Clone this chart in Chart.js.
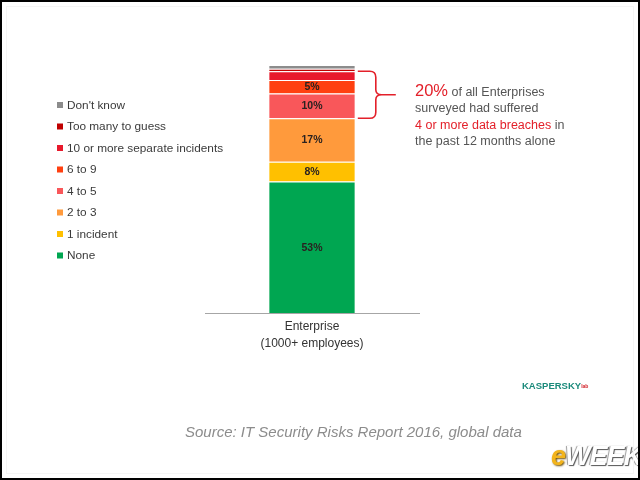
<!DOCTYPE html>
<html>
<head>
<meta charset="utf-8">
<script src="https://cdn.jsdelivr.net/npm/chart.js@4/dist/chart.umd.min.js"></script>
<style>
    body { margin: 0; background: #fff; }
    #wrap { position: relative; width: 640px; height: 480px; overflow: hidden; font-family: "Liberation Sans", Arial, sans-serif; }
    #frame { position: absolute; left: 0; top: 0; width: 636px; height: 476px; border: 2px solid #000; pointer-events: none; }
    #inner { position: absolute; left: 6px; top: 6px; width: 626px; height: 466px; border: 1px solid #f5f5f5; pointer-events: none; }
    #source { position: absolute; left: 185px; top: 423px; font-size: 15px; line-height: 18px; font-style: italic; color: #8c8c8c; white-space: nowrap; }
    #kaspersky { position: absolute; left: 522px; top: 380px; font-size: 9.5px; font-weight: bold; color: #1b8a7b; white-space: nowrap; }
    #kaspersky span { font-size: 5px; color: #d2232a; vertical-align: middle; }
    #eweek { position: absolute; left: 551px; top: 441px; font-size: 27px; font-weight: bold; font-style: italic; white-space: nowrap; letter-spacing: -1px; }
    #eweek .e { color: #f3b41b; text-shadow: 1px 1px 2px #6a4a00; }
    #eweek .w { color: #ffffff; text-shadow: 1px 1px 1px #555, -1px 0 1px #999; }
</style>
</head>
<body>
<div id="wrap">
    <canvas id="chart" width="640" height="480"></canvas>
    <div id="source">Source: IT Security Risks Report 2016, global data</div>
    <div id="kaspersky">KASPERSKY<span>lab</span></div>
    <div id="eweek"><span class="e">e</span><span class="w">WEEK</span></div>
    <div id="inner"></div>
    <div id="frame"></div>
</div>
<script>
'use strict';

// data, bottom of the stack first
const categories = [['Enterprise', '(1000+ employees)']];
const seriesNames = ['None', '1 incident', '2 to 3', '4 to 5', '6 to 9',
    '10 or more separate incidents', 'Too many to guess', "Don't know"];
const seriesValues = [53, 8, 17.5, 10, 5.5, 3.5, 1, 1.5];
const seriesLabels = ['53%', '8%', '17%', '10%', '5%', '', '', ''];
const seriesColors = ['#00a651', '#ffc000', '#ff9a3c', '#f9575a', '#ff4010',
    '#e8192c', '#c00000', '#8c8c8c'];

const noteLines = [
    [{ text: '20%', red: true, big: true }, { text: ' of all Enterprises' }],
    [{ text: 'surveyed had suffered' }],
    [{ text: '4 or more data breaches', red: true }, { text: ' in' }],
    [{ text: 'the past 12 months alone' }]
];

const RED = '#e3202a';
const FONT = '"Liberation Sans", Arial, sans-serif';

let total = 0;
for (let i = 0; i < seriesValues.length; i++) {
    total += seriesValues[i];
}

let datasets = [];
for (let i = 0; i < seriesNames.length; i++) {
    datasets.push({
        label: seriesNames[i],
        data: [seriesValues[i]],
        backgroundColor: seriesColors[i],
        borderColor: '#ffffff',
        borderWidth: { top: 1, bottom: 0, left: 0, right: 0 },
        borderSkipped: false,
        barPercentage: 0.4,
        categoryPercentage: 1
    });
}

const extras = {
    id: 'extras',
    afterDatasetsDraw(chart) {
        const ctx = chart.ctx;
        ctx.save();

        // values in the segments
        ctx.font = 'bold 10.5px ' + FONT;
        ctx.fillStyle = '#2a2220';
        ctx.textAlign = 'center';
        ctx.textBaseline = 'middle';
        for (let i = 0; i < seriesLabels.length; i++) {
            if (!seriesLabels[i]) continue;
            const el = chart.getDatasetMeta(i).data[0];
            ctx.fillText(seriesLabels[i], el.x, (el.y + el.base) / 2 + 0.5);
        }

        // legend on the left, top of the stack first
        ctx.textAlign = 'left';
        ctx.font = '11.8px ' + FONT;
        let k = 0;
        for (let i = seriesNames.length - 1; i >= 0; i--) {
            const y = 105 + k * 21.5;
            ctx.fillStyle = seriesColors[i];
            ctx.fillRect(57, y - 3, 6, 6);
            ctx.fillStyle = '#3a3a3a';
            ctx.fillText(seriesNames[i], 67, y + 0.5);
            k++;
        }

        // brace round "4 to 5" .. "10 or more"
        const low = chart.getDatasetMeta(3).data[0];
        const high = chart.getDatasetMeta(5).data[0];
        const x0 = low.x + low.width / 2 + 3;
        const x1 = x0 + 18;
        const top = high.y;
        const bottom = low.base;
        const mid = (top + bottom) / 2;
        ctx.strokeStyle = RED;
        ctx.lineWidth = 1.6;
        ctx.beginPath();
        ctx.moveTo(x0, top);
        ctx.lineTo(x1 - 6, top);
        ctx.quadraticCurveTo(x1, top, x1, top + 6);
        ctx.lineTo(x1, mid - 5);
        ctx.quadraticCurveTo(x1, mid, x1 + 6, mid);
        ctx.lineTo(x1 + 20, mid);
        ctx.moveTo(x1 + 6, mid);
        ctx.quadraticCurveTo(x1, mid, x1, mid + 5);
        ctx.lineTo(x1, bottom - 6);
        ctx.quadraticCurveTo(x1, bottom, x1 - 6, bottom);
        ctx.lineTo(x0, bottom);
        ctx.stroke();

        // note text
        ctx.textBaseline = 'alphabetic';
        const baselines = [95.5, 111.5, 128.5, 145];
        for (let l = 0; l < noteLines.length; l++) {
            let x = 415;
            for (const part of noteLines[l]) {
                ctx.font = (part.big ? '16.5px ' : '12.5px ') + FONT;
                ctx.fillStyle = part.red ? RED : '#555555';
                ctx.fillText(part.text, x, baselines[l]);
                x += ctx.measureText(part.text).width;
            }
        }
        ctx.restore();
    }
};

new Chart(document.getElementById('chart'), {
    type: 'bar',
    data: {
        labels: categories,
        datasets: datasets
    },
    options: {
        responsive: false,
        animation: false,
        layout: { padding: { left: 205, right: 221, top: 65, bottom: 0 } },
        plugins: {
            legend: { display: false },
            tooltip: { enabled: false }
        },
        scales: {
            x: {
                stacked: true,
                grid: { display: false, drawTicks: false },
                border: { display: true, color: '#a6a6a6', width: 1 },
                ticks: {
                    padding: 6,
                    color: '#333333',
                    font: { family: FONT, size: 12, lineHeight: 1.35 }
                },
                afterFit: function (scale) {
                    scale.height = 167;
                }
            },
            y: {
                stacked: true,
                display: false,
                min: 0,
                max: total
            }
        }
    },
    plugins: [extras]
});
</script>
</body>
</html>
